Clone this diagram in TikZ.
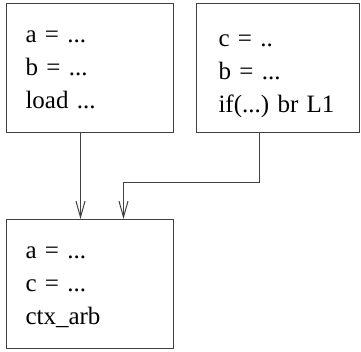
\documentclass[tikz,border=0pt]{standalone}
\usepackage{fontspec}
\setmainfont{Liberation Serif}
\usetikzlibrary{arrows.meta}
\frenchspacing

\begin{document}
\begin{tikzpicture}[x=1pt, y=-1pt, line width=1pt, draw=black!75,
  font=\fontsize{25}{33}\selectfont,
  box/.style={draw, anchor=north west, align=left, inner xsep=19pt, inner ysep=0pt,
    text width=129pt, minimum width=167pt, minimum height=129pt, text height=17pt, text depth=68pt},
  arr/.style={-{Straight Barb[length=16pt, width=9pt]}}]
\useasboundingbox (0,0) rectangle (361,352);
\node[box] (pred1) at (6,3) {a = ...\\b = ...\\load ...};
\node[box, inner xsep=22pt, text width=119pt, minimum width=163pt, text height=24pt, text depth=66pt]
  (pred2) at (196,3) {c = ..\\b = ...\\if(...) br L1};
\node[box] (succ) at (6,219) {a = ...\\c = ...\\ctx\_arb};
\draw[arr] ([xshift=-9.5pt]pred1.south) -- ([xshift=-9.5pt]succ.north);
\draw[arr] ([xshift=-18.5pt]pred2.south) -- ++(0,50) -| ([xshift=33.5pt]succ.north);
\end{tikzpicture}
\end{document}
